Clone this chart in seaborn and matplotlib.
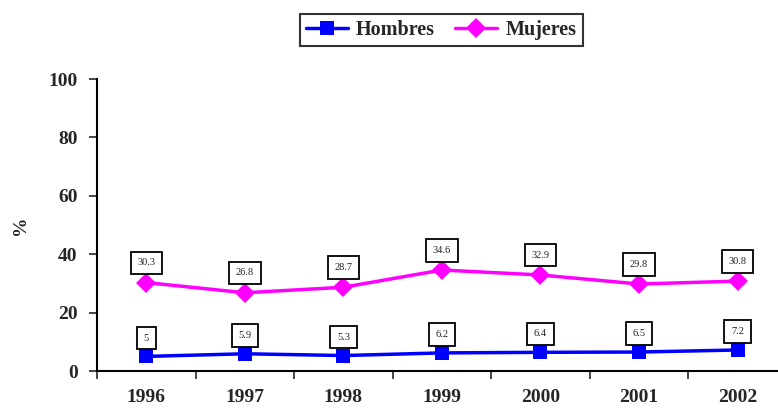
import matplotlib
matplotlib.use("Agg")
import matplotlib.pyplot as plt
import seaborn as sns
import pandas as pd
import numpy as np
from matplotlib.ticker import FixedLocator
from matplotlib.lines import Line2D

years = ["1996", "1997", "1998", "1999", "2000", "2001", "2002"]
hombres = [5, 5.9, 5.3, 6.2, 6.4, 6.5, 7.2]
mujeres = [30.3, 26.8, 28.7, 34.6, 32.9, 29.8, 30.8]
series_names = ["Hombres", "Mujeres"]
colors = {"Hombres": "#0000FF", "Mujeres": "#FF00FF"}
markers = {"Hombres": "s", "Mujeres": "D"}

sns.set_style("white")
plt.rcParams["font.family"] = ["Liberation Serif", "DejaVu Serif"]

df = pd.DataFrame({
    "pos": list(range(len(years))) * 2,
    "value": hombres + mujeres,
    "serie": [series_names[0]] * len(years) + [series_names[1]] * len(years),
})

fig = plt.figure(figsize=(7.78, 4.12), dpi=100)
ax = fig.add_axes([0.1247, 0.0995, 0.8753, 0.7085])

sns.lineplot(data=df, x="pos", y="value", hue="serie", style="serie",
             palette=colors, markers=markers, dashes=False, linewidth=2.5,
             markersize=10, markeredgewidth=0, ax=ax, legend=False)

for name, vals in zip(series_names, [hombres, mujeres]):
    off = 11 if name == "Mujeres" else 10
    for i, v in enumerate(vals):
        ax.annotate(f"{v:g}", (i, v), xytext=(0, off), textcoords="offset points",
                    ha="center", va="bottom", fontsize=7.5, color="#222222",
                    bbox=dict(boxstyle="square,pad=0.65", fc="white", ec="black", lw=1.3))

ax.set_xlim(-0.5, 6.41)
ax.set_ylim(0, 100)
ax.set_yticks([0, 20, 40, 60, 80, 100])
ax.set_yticklabels(["0", "20", "40", "60", "80", "100"], fontsize=14, fontweight="bold")
ax.set_xticks(range(len(years)))
ax.set_xticklabels(years, fontsize=14, fontweight="bold")
ax.xaxis.set_minor_locator(FixedLocator(np.arange(-0.5, 6.6, 1.0)))
ax.tick_params(axis="x", which="major", length=0, pad=13)
ax.tick_params(axis="x", which="minor", length=6, width=1.2, direction="out", bottom=True)
ax.tick_params(axis="y", length=6, width=1.2, direction="out", left=True, pad=8)
ax.set_xlabel("")
ax.set_ylabel("%", fontsize=14, fontweight="bold", labelpad=14)
for s in ["top", "right"]:
    ax.spines[s].set_visible(False)
for s in ["left", "bottom"]:
    ax.spines[s].set_linewidth(1.5)
    ax.spines[s].set_color("black")

handles = [Line2D([], [], color=colors[n], marker=markers[n], lw=2.5, markersize=10,
                  markeredgewidth=0) for n in series_names]
leg = fig.legend(handles, series_names, loc="center", bbox_to_anchor=(0.567, 0.927),
                 ncol=2, frameon=True, fancybox=False, edgecolor="black",
                 prop={"weight": "bold", "size": 14.5}, handlelength=2.1,
                 columnspacing=1.0, handletextpad=0.4, borderpad=0.3)
leg.get_frame().set_linewidth(1.5)

fig.savefig("out.png", dpi=100)
